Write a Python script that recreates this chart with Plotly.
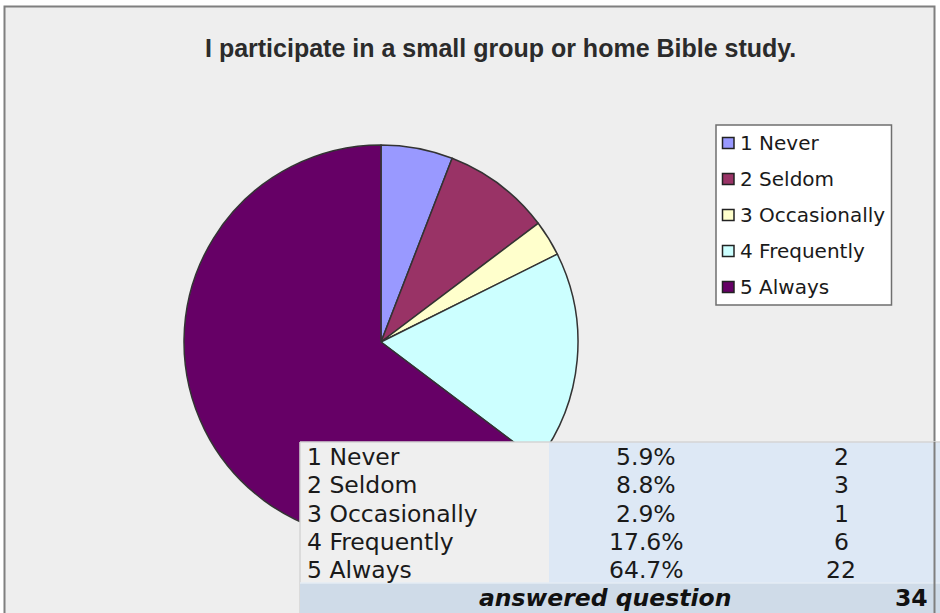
import plotly.graph_objects as go

# Survey responses
categories = ["1 Never", "2 Seldom", "3 Occasionally", "4 Frequently", "5 Always"]
counts = [2, 3, 1, 6, 22]
percents = ["5.9%", "8.8%", "2.9%", "17.6%", "64.7%"]
answered = 34
colors = ["#9999ff", "#993366", "#ffffcc", "#ccffff", "#660066"]
title_text = "I participate in a small group or home Bible study."

W, H = 940, 613


def px(x):
    return x / W


def py(y):
    return 1 - y / H


fig = go.Figure()

# Pie: centre (381, 342), radius 197 px
cx, cy, r = 381, 342, 197
fig.add_trace(go.Pie(
    labels=categories,
    values=counts,
    sort=False,
    direction="clockwise",
    rotation=0,
    marker=dict(colors=colors, line=dict(color="#333333", width=1.5)),
    textinfo="none",
    hoverinfo="label+value+percent",
    showlegend=False,
    domain=dict(x=[px(cx - r), px(cx + r)], y=[py(cy + r), py(cy - r)]),
))

shapes = []
annotations = []

# Chart frame
shapes.append(dict(type="rect", xref="paper", yref="paper", layer="below",
                   x0=px(4.5), x1=px(934.5), y0=py(640), y1=py(6.5),
                   fillcolor="#eeeeee", line=dict(color="#7f7f7f", width=2)))

# Title
annotations.append(dict(text=title_text, xref="paper", yref="paper",
                        x=px(500), y=py(48), xanchor="center", yanchor="middle",
                        showarrow=False,
                        font=dict(family="Liberation Sans, Arial", size=25,
                                  color="#2b2b2b", weight="bold")))

# Legend box
shapes.append(dict(type="rect", xref="paper", yref="paper", layer="above",
                   x0=px(716), x1=px(891.5), y0=py(305), y1=py(125),
                   fillcolor="white", line=dict(color="#6f6f6f", width=1.5)))
lfont = dict(family="DejaVu Sans", size=20, color="#1a1a1a")
for i, (lab, col) in enumerate(zip(categories, colors)):
    yc = 143 + i * 36
    shapes.append(dict(type="rect", xref="paper", yref="paper", layer="above",
                       x0=px(722.5), x1=px(734), y0=py(yc + 5.5), y1=py(yc - 5.5),
                       fillcolor=col, line=dict(color="#222222", width=1.5)))
    annotations.append(dict(text=lab, xref="paper", yref="paper",
                            x=px(738), y=py(yc), xanchor="left", yanchor="middle",
                            showarrow=False, font=lfont))

# Summary table
t_left, t_split, t_right = 300, 549, 940
t_top, row_h = 442, 28.2
last_top = t_top + row_h * len(categories)
shapes.append(dict(type="rect", xref="paper", yref="paper", layer="above",
                   x0=px(t_left), x1=px(t_split), y0=py(last_top), y1=py(t_top),
                   fillcolor="#efefef", line=dict(width=0)))
shapes.append(dict(type="rect", xref="paper", yref="paper", layer="above",
                   x0=px(t_split), x1=px(t_right), y0=py(last_top), y1=py(t_top),
                   fillcolor="#dde8f5", line=dict(width=0)))
shapes.append(dict(type="line", xref="paper", yref="paper", layer="above",
                   x0=px(t_left), x1=px(t_right), y0=py(t_top), y1=py(t_top),
                   line=dict(color="#d4d4d4", width=1.5)))
shapes.append(dict(type="line", xref="paper", yref="paper", layer="above",
                   x0=px(t_left), x1=px(t_left), y0=py(H + 5), y1=py(t_top),
                   line=dict(color="#d4d4d4", width=1.5)))
shapes.append(dict(type="rect", xref="paper", yref="paper", layer="above",
                   x0=px(t_left), x1=px(t_right), y0=py(H + 5), y1=py(last_top),
                   fillcolor="#cfdbe8", line=dict(width=0)))
shapes.append(dict(type="line", xref="paper", yref="paper", layer="above",
                   x0=px(t_left), x1=px(t_right), y0=py(last_top), y1=py(last_top),
                   line=dict(color="#e4ecf5", width=1.5)))
# frame edge showing through on the right
shapes.append(dict(type="line", xref="paper", yref="paper", layer="above",
                   x0=px(934.5), x1=px(934.5), y0=py(H + 5), y1=py(t_top),
                   line=dict(color="#7f7f7f", width=2)))

tfont = dict(family="DejaVu Sans", size=23.5, color="#1a1a1a")
for i, (lab, pct, n) in enumerate(zip(categories, percents, counts)):
    yc = t_top + row_h * (i + 0.5) + 1
    annotations.append(dict(text=lab, xref="paper", yref="paper", x=px(305), y=py(yc),
                            xanchor="left", yanchor="middle", showarrow=False, font=tfont))
    annotations.append(dict(text=pct, xref="paper", yref="paper", x=px(646), y=py(yc),
                            xanchor="center", yanchor="middle", showarrow=False, font=tfont))
    annotations.append(dict(text=str(n), xref="paper", yref="paper", x=px(841), y=py(yc),
                            xanchor="center", yanchor="middle", showarrow=False, font=tfont))

bfont = dict(family="DejaVu Sans", size=23.5, color="#111111", weight="bold", style="italic")
annotations.append(dict(text="answered question", xref="paper", yref="paper", x=px(605), y=py(598),
                        xanchor="center", yanchor="middle", showarrow=False, font=bfont))
annotations.append(dict(text=str(answered), xref="paper", yref="paper", x=px(930), y=py(598),
                        xanchor="right", yanchor="middle", showarrow=False,
                        font=dict(family="DejaVu Sans", size=23.5, color="#111111", weight="bold")))

fig.update_layout(
    width=W, height=H,
    margin=dict(l=0, r=0, t=0, b=0),
    paper_bgcolor="white",
    plot_bgcolor="white",
    shapes=shapes,
    annotations=annotations,
)

fig.write_html("out.html", config={"displayModeBar": False})
